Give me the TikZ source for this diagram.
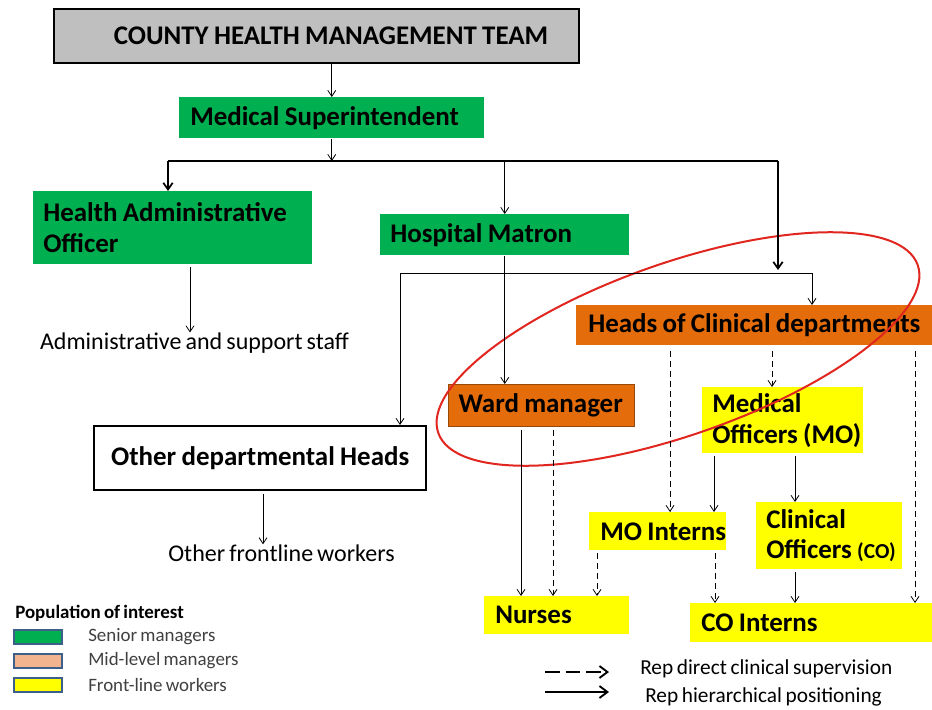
\documentclass[tikz,border=0pt]{standalone}
\usepackage{fontspec}
\setmainfont{Carlito}[WordSpace=0.75]
\usetikzlibrary{arrows.meta}
\hyphenpenalty=10000
\exhyphenpenalty=10000

\definecolor{chmtgray}{HTML}{BFBFBF}
\definecolor{senior}{HTML}{00B050}
\definecolor{midlevel}{HTML}{E46C0A}
\definecolor{midedge}{HTML}{984807}
\definecolor{frontline}{HTML}{FFFF00}
\definecolor{keyedge}{HTML}{3E5F8A}
\definecolor{keypeach}{HTML}{F2B48E}
\definecolor{ringred}{HTML}{E0261F}
\definecolor{keygray}{HTML}{404040}

\tikzset{
  post/.style={anchor=north west, inner ysep=0pt, align=left,
    font=\fontsize{20.2}{23}\selectfont\bfseries, execute at begin node={\spaceskip=4pt\relax}},
  staff/.style={inner sep=0pt, font=\fontsize{18}{21}\selectfont},
  hier/.style={-{Straight Barb[length=4.5pt,width=6pt]}, line width=0.6pt},
  clin/.style={hier, dash pattern=on 4.5pt off 3pt},
  heavy/.style={line width=1.3pt},
  heavyhier/.style={heavy, -{Straight Barb[length=5pt,width=7pt]}},
  gap/.style={shorten <=2pt},
  swatch/.style={draw=keyedge, line width=1.5pt, minimum width=36pt, minimum height=11pt, inner sep=0pt},
  keytext/.style={anchor=west, inner sep=0pt, text=keygray, font=\fontsize{14.2}{16}\selectfont},
  keyline/.style={line width=1.4pt, -{Straight Barb[length=6pt,width=9pt]}},
  keylabel/.style={anchor=west, inner sep=0pt, font=\fontsize{16}{18}\selectfont},
}

\begin{document}
\begin{tikzpicture}[x=0.75pt, y=-0.75pt]
  \fill[white] (0,0) rectangle (932,710);
  \useasboundingbox (0,0) rectangle (932,710);

  % management posts
  \node[post, fill=chmtgray, draw, line width=1.8pt, minimum width=393.75pt, minimum height=40.5pt,
    inner xsep=23.25pt, text width=347.25pt, align=right] (chmt) at (53,8) {COUNTY HEALTH MANAGEMENT TEAM};
  \node[post, fill=senior, minimum width=228.75pt, minimum height=30.75pt, inner xsep=8.25pt,
    text width=212.25pt] (medsup) at (179,97) {Medical Superintendent};
  \node[post, fill=senior, minimum width=209.25pt, minimum height=54.75pt, inner xsep=7.5pt,
    text width=194.25pt] (hao) at (33,191) {Health Administrative\\Officer};
  \node[post, fill=senior, minimum width=186.75pt, minimum height=30.75pt, inner xsep=7.5pt,
    text width=171.75pt] (matron) at (380,214) {Hospital Matron};
  \node[post, fill=midlevel, minimum width=267pt, minimum height=30pt, inner xsep=9pt,
    text width=249pt] (hcd) at (576,305) {Heads~of~Clinical~departments};
  \node[post, fill=midlevel, draw=midedge, line width=0.8pt, minimum width=139.5pt, minimum height=31.5pt,
    inner xsep=7.5pt, text width=124.5pt] (ward) at (448,384) {Ward~manager};
  \node[post, fill=white, draw, line width=1.8pt, minimum width=249pt, minimum height=48pt,
    inner xsep=4.5pt, text width=240pt, align=center] (odh) at (93,425) {Other departmental Heads};

  % front-line posts
  \node[post, fill=frontline, minimum width=120.75pt, minimum height=49.5pt, inner xsep=7.5pt,
    text width=105.75pt] (mo) at (702,387) {Medical\\Officers~(MO)};
  \node[post, fill=frontline, minimum width=102.75pt, minimum height=28.5pt, inner xsep=8.25pt,
    text width=86.25pt] (mointern) at (589,512) {MO~Interns};
  \node[post, fill=frontline, minimum width=109.5pt, minimum height=50.25pt, inner xsep=7.5pt,
    text width=94.5pt] (co) at (756,502) {Clinical\\Officers~{\fontsize{16}{18}\selectfont(CO)}};
  \node[post, fill=frontline, minimum width=108.75pt, minimum height=28.5pt, inner xsep=8.25pt,
    text width=92.25pt] (nurses) at (484,596) {Nurses};
  \node[post, fill=frontline, minimum width=181.5pt, minimum height=29.25pt, inner xsep=8.25pt,
    text width=165pt] (cointern) at (690,603) {CO Interns};

  % staff without a box
  \node[staff] (admin) at (194.5,343) {Administrative and support staff};
  \node[staff] (others) at (281.5,553) {Other frontline workers};

  % ring round the mid-level managers
  \draw[ringred, line width=1.5pt, rotate around={19.3:(678,349)}] (678,349) ellipse [x radius=254, y radius=86];

  % hierarchy from the top
  \coordinate (busL) at (168,161);
  \coordinate (busR) at (778,161);
  \coordinate (busRend) at (778,270);
  \coordinate (matL) at (400,273);
  \coordinate (matR) at (812,273);
  \draw[hier] (medsup.north |- chmt.south) -- (medsup.north);
  \draw[hier] (medsup.south) -- (medsup.south |- busL);
  \draw[heavy] (busL) -- (busR);
  \draw[heavyhier] (busL) -- (busL |- hao.north);
  \draw[hier] (matron.north |- busL) -- (matron.north);
  \draw[heavyhier] (busR) -- (busRend);
  \draw[line width=0.6pt] (matL) -- (matR);
  \draw[hier] (matL) -- (matL |- odh.north);
  \draw[hier] (matR) -- (matR |- hcd.north);
  \draw[hier] (matron.south) -- (matron.south |- ward.north);
  \draw[hier, gap] (190,0 |- hao.south) -- (190,0 |- admin.north);
  \draw[hier, gap] (263,0 |- odh.south) -- (263,0 |- others.north);

  % lines below the mid-level managers
  \draw[clin, shorten <=4pt] (670,0 |- hcd.south) -- (670,0 |- mointern.north);
  \draw[clin, shorten <=4pt] (772,0 |- hcd.south) -- (772,0 |- mo.north);
  \draw[clin, shorten <=4pt] (915,0 |- hcd.south) -- (915,0 |- cointern.north);
  \draw[hier, gap] (521,0 |- ward.south) -- (521,0 |- nurses.north);
  \draw[clin, gap] (553,0 |- ward.south) -- (553,0 |- nurses.north);
  \draw[hier, gap] (714,0 |- mo.south) -- (714,0 |- mointern.north);
  \draw[hier, gap] (795,0 |- mo.south) -- (795,0 |- co.north);
  \draw[clin, gap] (597,0 |- mointern.south) -- (597,0 |- nurses.north);
  \draw[clin, gap] (715,0 |- mointern.south) -- (715,0 |- cointern.north);
  \draw[hier, gap] (795,0 |- co.south) -- (795,0 |- cointern.north);

  % legend
  \node[anchor=west, inner sep=0pt, font=\fontsize{14.2}{16}\selectfont\bfseries] (poi) at (15,613) {Population of interest};
  \node[swatch, fill=senior] (keysenior) at (37.5,637) {};
  \node[swatch, fill=keypeach] (keymid) at (37.5,661) {};
  \node[swatch, fill=frontline] (keyfront) at (37.5,685) {};
  \node[keytext] (sen) at (88,637) {Senior managers};
  \node[keytext] (mid) at (88,661) {Mid-level managers};
  \node[keytext] (fro) at (88,685) {Front-line workers};

  % key to the lines
  \coordinate (clinA) at (545,672);
  \coordinate (clinB) at (609,672);
  \coordinate (hierA) at (545,692);
  \coordinate (hierB) at (609,692);
  \draw[keyline, dash pattern=on 11pt off 4.5pt] (clinA) -- (clinB);
  \draw[keyline] (hierA) -- (hierB);
  \node[keylabel] (clinlab) at (640,669) {Rep direct clinical supervision};
  \node[keylabel] (hierlab) at (645,697) {Rep hierarchical positioning};
\end{tikzpicture}
\end{document}
